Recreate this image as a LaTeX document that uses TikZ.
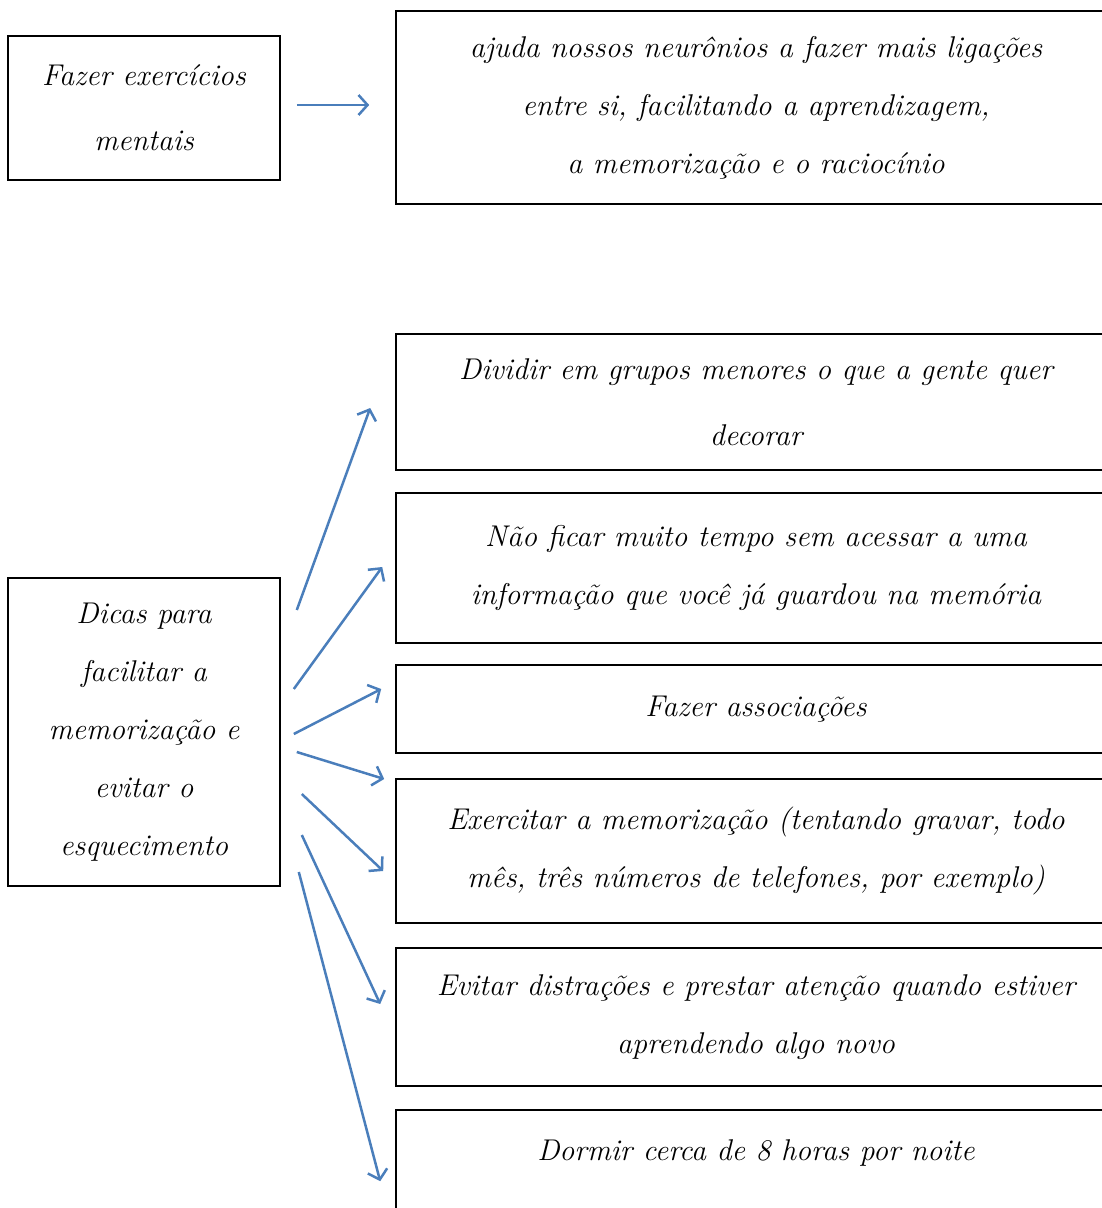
\documentclass[tikz,border=0pt]{standalone}
\usepackage{fontspec}
\usetikzlibrary{arrows.meta}
\definecolor{arrowblue}{RGB}{74,126,187}

\begin{document}
\begin{tikzpicture}[x=1pt, y=-1pt, line width=2.5pt, >={Straight Barb[length=9pt,width=20pt]},
	box/.style={draw, line width=1.6pt, align=center, inner sep=0pt, font=\fontsize{30}{58}\selectfont\itshape},
	link/.style={->, draw=arrowblue}]

				\useasboundingbox (0,0) rectangle (1102,1208);

				\node [box, minimum width=272pt, minimum height=144pt] (EM) at (144,108) {Fazer exercícios\\[7pt] mentais};
				\node [box, minimum width=720pt, minimum height=193pt] (NE) at (756,107.5) {ajuda nossos neurônios a fazer mais ligações\\ entre si, facilitando a aprendizagem,\\ a memorização e o raciocínio};

				\node [box, minimum width=272pt, minimum height=308pt] (DI) at (144,732) {Dicas para\\ facilitar a\\ memorização e\\ evitar o\\ esquecimento};

				\node [box, minimum width=720pt, minimum height=136pt] (GR) at (756,402) {Dividir em grupos menores o que a gente quer\\[8pt] decorar};
				\node [box, minimum width=720pt, minimum height=150pt] (AC) at (756,568) {Não ficar muito tempo sem acessar a uma\\ informação que você já guardou na memória};
				\node [box, minimum width=720pt, minimum height=88pt] (AS) at (756,709) {Fazer associações};
				\node [box, minimum width=720pt, minimum height=144pt] (EX) at (756,851) {Exercitar a memorização (tentando gravar, todo\\ mês, três números de telefones, por exemplo)};
				\node [box, minimum width=720pt, minimum height=138pt] (DS) at (756,1017) {Evitar distrações e prestar atenção quando estiver\\ aprendendo algo novo};
				\node [box, minimum width=720pt, text height=50pt, text depth=90pt, anchor=base] (DO) at (756,1160) {Dormir cerca de 8 horas por noite};

				\draw [link] ([shift={(16,-3)}]EM.east) -- ([shift={(-26,-2.5)}]NE.west);

				\draw [link] ([shift={(16,-122)}]DI.east) -- ([shift={(-25,6)}]GR.west);
				\draw [link] ([shift={(13,-43)}]DI.east) -- ([shift={(-13,-1)}]AC.west);
				\draw [link] ([shift={(13,2)}]DI.east) -- ([shift={(-14,-20)}]AS.west);
				\draw [link] ([shift={(16,20)}]DI.east) -- ([shift={(-11,-72)}]EX.west);
				\draw [link] ([shift={(21,62)}]DI.east) -- ([shift={(-12,20)}]EX.west);
				\draw [link] ([shift={(21,103)}]DI.east) -- ([shift={(-15,-13)}]DS.west);
				\draw [link] ([shift={(18,140)}]DI.east) -- ([shift={(-15,72)}]DO.north west);

			\end{tikzpicture}
\end{document}
